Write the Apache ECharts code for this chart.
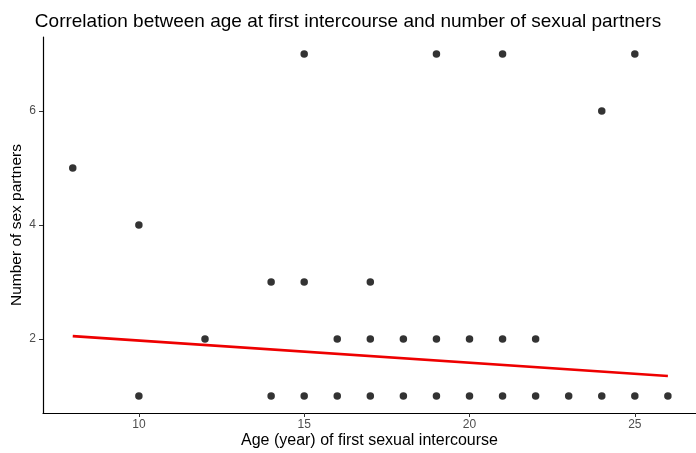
<!DOCTYPE html>
<html>
<head>
<meta charset="utf-8">
<script src="https://cdn.jsdelivr.net/npm/echarts@6/dist/echarts.min.js"></script>
<style>
html,body{margin:0;padding:0;background:#fff;}
#c{width:696px;height:453px;}
</style>
</head>
<body>
<div id="c"></div>
<script>
// Observations: age at first intercourse (x) and number of partners (y)
const ages = [15, 19, 21, 25, 24, 8, 10, 14, 15, 17,
              12, 16, 17, 18, 19, 20, 21, 22,
              10, 14, 15, 16, 17, 18, 19, 20, 21, 22, 23, 24, 25, 26];
const partners = [7, 7, 7, 7, 6, 5, 4, 3, 3, 3,
                  2, 2, 2, 2, 2, 2, 2, 2,
                  1, 1, 1, 1, 1, 1, 1, 1, 1, 1, 1, 1, 1, 1];
// Fitted regression line endpoints
const fitX = [8, 26];
const fitY = [2.05, 1.35];
const xTicks = [10, 15, 20, 25];
const yTicks = [2, 4, 6];

const chart = echarts.init(document.getElementById('c'), null, {renderer: 'canvas'});
const font = 'Liberation Sans, Arial, sans-serif';
chart.setOption({
  animation: false,
  backgroundColor: '#fff',
  title: {
    text: 'Correlation between age at first intercourse and number of sexual partners',
    left: 'center', top: 7,
    textStyle: {fontFamily: font, fontSize: 19, fontWeight: 'normal', color: '#000'}
  },
  grid: {left: 43, right: 0, top: 37, bottom: 40, containLabel: false, outerBoundsMode: 'none'},
  xAxis: {
    type: 'value', min: 7.1, max: 26.85,
    name: 'Age (year) of first sexual intercourse',
    nameLocation: 'middle', nameGap: 20, nameMoveOverlap: false,
    nameTextStyle: {fontFamily: font, fontSize: 16, color: '#000'},
    splitLine: {show: false},
    axisLine: {lineStyle: {color: '#000', width: 1.2}},
    axisTick: {customValues: xTicks, length: 4, lineStyle: {color: '#333'}},
    axisLabel: {customValues: xTicks, margin: 6, fontFamily: font, fontSize: 12, color: '#4d4d4d'}
  },
  yAxis: {
    type: 'value', min: 0.7, max: 7.3,
    name: 'Number of sex partners',
    nameLocation: 'middle', nameGap: 18, nameRotate: 90, nameMoveOverlap: false,
    nameTextStyle: {fontFamily: font, fontSize: 15.5, color: '#000'},
    splitLine: {show: false},
    axisLine: {show: true, lineStyle: {color: '#000', width: 1.2}},
    axisTick: {show: true, customValues: yTicks, length: 4, lineStyle: {color: '#333'}},
    axisLabel: {customValues: yTicks, margin: 7, fontFamily: font, fontSize: 12, color: '#4d4d4d'}
  },
  series: [
    {
      type: 'scatter',
      data: ages.map((a, i) => [a, partners[i]]),
      symbolSize: 7.5,
      itemStyle: {color: '#000'},
      z: 2
    },
    {
      type: 'line',
      data: fitX.map((x, i) => [x, fitY[i]]),
      showSymbol: false,
      lineStyle: {color: '#ee0000', width: 2.6},
      z: 3
    }
  ]
});
</script>
</body>
</html>
